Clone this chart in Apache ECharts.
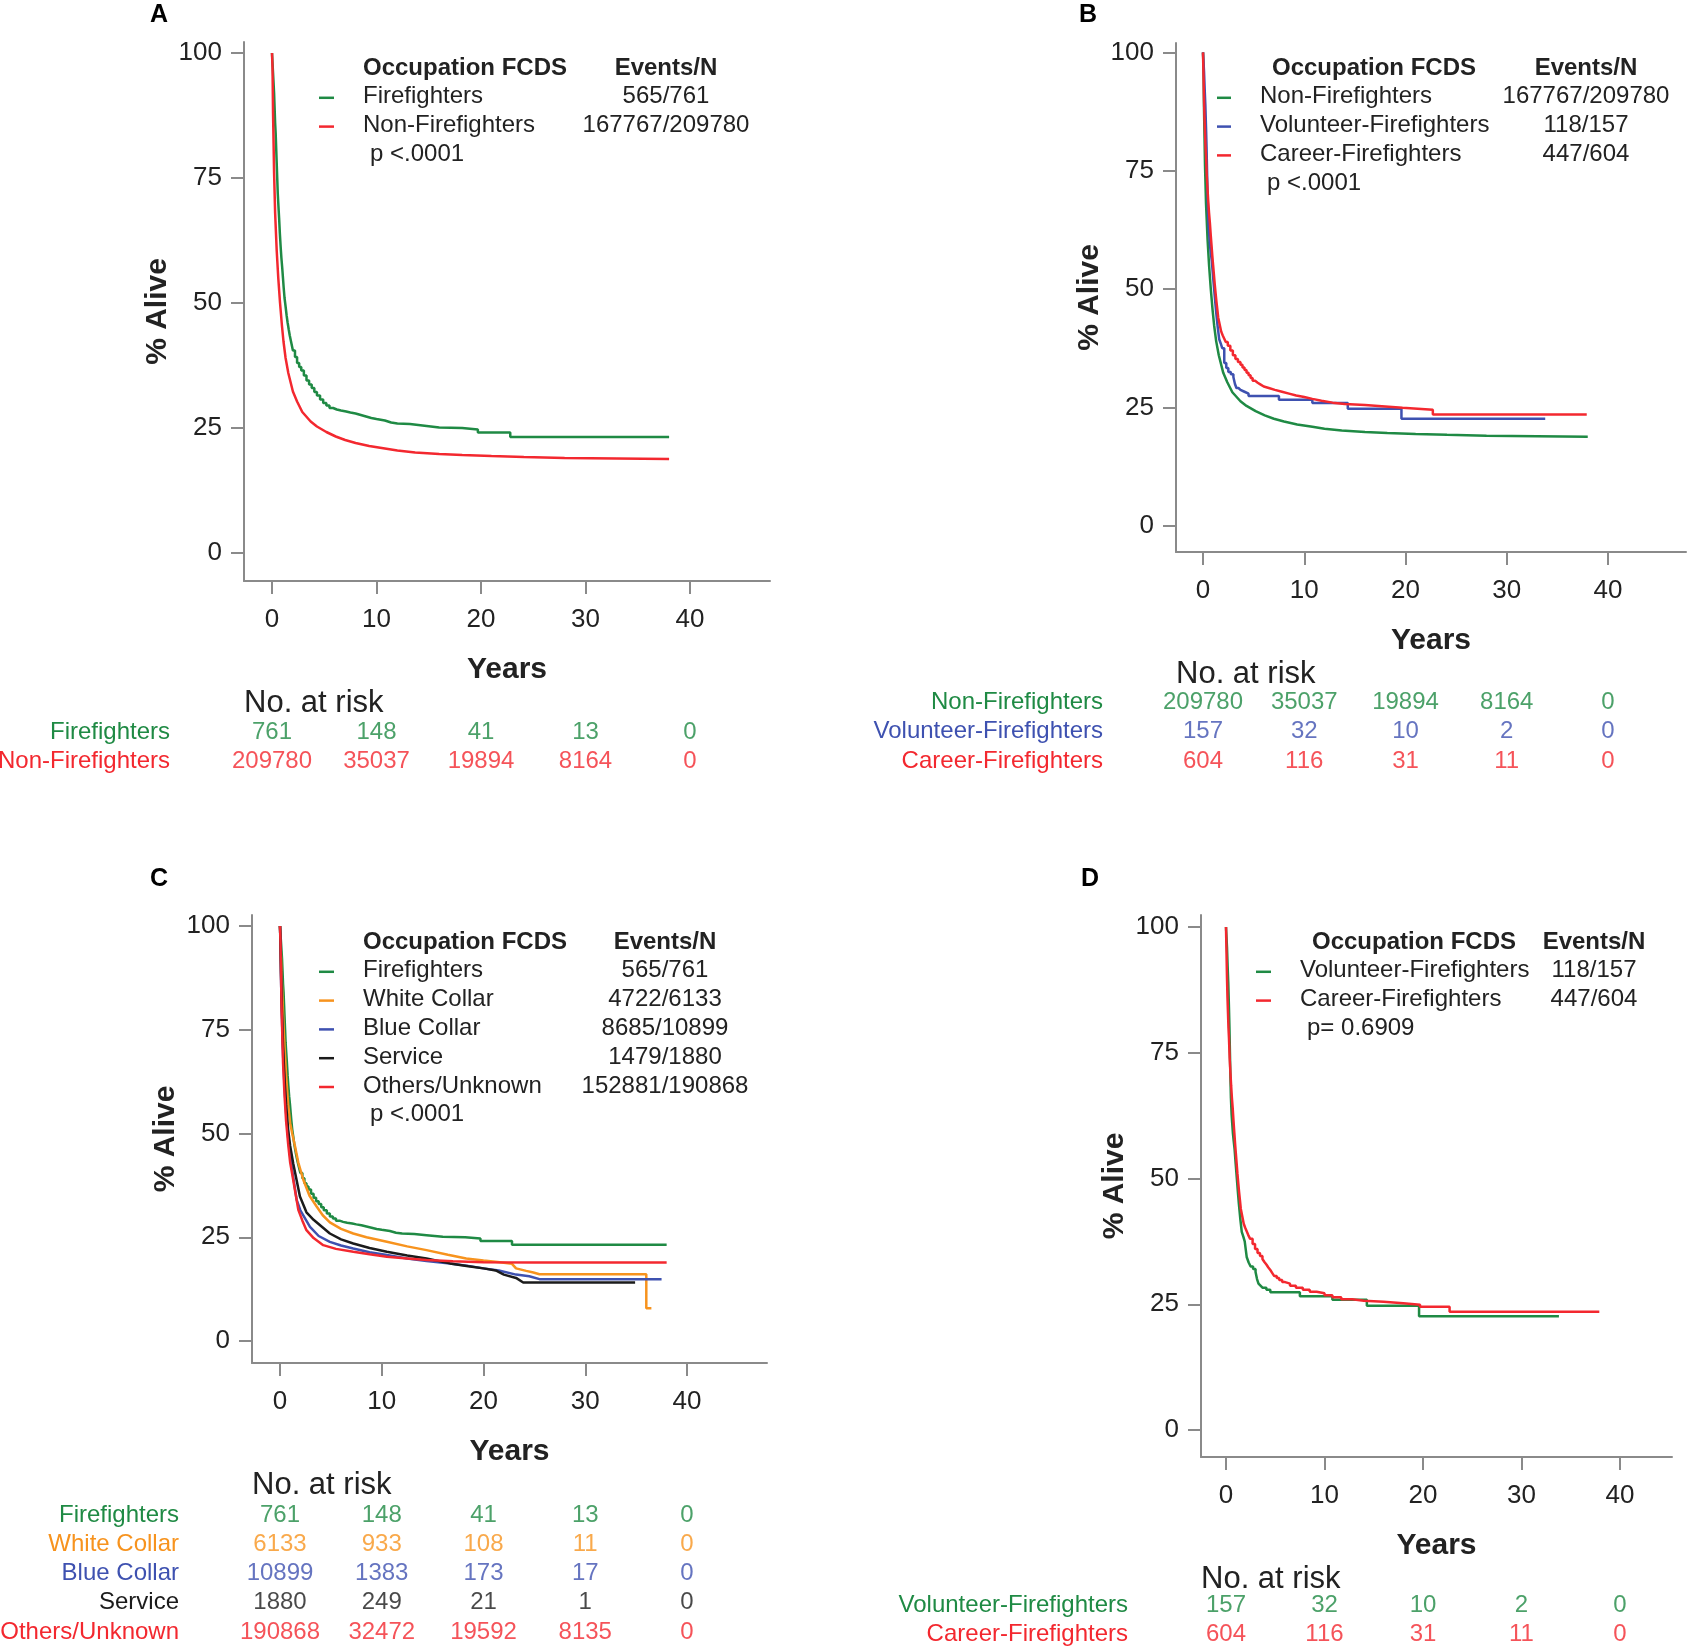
<!DOCTYPE html>
<html>
<head>
<meta charset="utf-8">
<title>Kaplan-Meier: Occupation FCDS</title>
<script src="https://cdn.jsdelivr.net/npm/echarts@6/dist/echarts.min.js"></script>
<style>
  html, body { margin: 0; padding: 0; background: #fff; }
  #main { width: 1689px; height: 1647px; }
</style>
</head>
<body>
<div id="main"></div>
<script>
// ---- data ----
var yearTicks = [0, 10, 20, 30, 40];
var percentTicks = [0, 25, 50, 75, 100];

// [years, % alive]
var kmFirefighters = [[0,100],[0.05,98],[0.1,96],[0.15,94],[0.2,92],[0.25,89],[0.3,86],[0.35,84],[0.4,81],[0.45,78],[0.5,75],[0.55,72],[0.6,70],[0.68,67],[0.75,64],[0.82,61.5],[0.9,59],[0.98,57],[1.05,55],[1.12,53],[1.2,51],[1.3,49.3],[1.4,47.5],[1.5,46],[1.6,44.7],[1.7,43.5],[1.85,42],[2.0,40.5],[2.2,39.2],[2.4,38],[2.6,37.2],[2.8,36.5],[3.05,35.5],[3.3,34.5],[3.55,33.7],[3.8,33],[4.05,32.2],[4.3,31.5],[4.6,30.7],[4.9,30],[5.2,29.5],[5.5,29],[5.85,28.7],[6.2,28.5],[6.6,28.3],[7.1,28.1],[7.5,27.9],[8.0,27.6],[8.5,27.3],[9.0,27],[9.5,26.8],[10.0,26.5],[10.8,26.1],[11.4,25.9],[12.0,25.8],[13.2,25.5],[14.4,25.1],[16,25.0],[18.2,24.7],[19.7,24.1],[22.8,23.2],[38,23.2]];
var kmNonFirefighters = [[0,100],[0.05,97],[0.1,88],[0.15,82],[0.2,76],[0.3,68],[0.45,60.5],[0.6,55],[0.77,50],[0.95,45.5],[1.1,42.3],[1.3,39],[1.56,36],[2.0,32.3],[2.4,30.3],[2.9,28.2],[3.7,26.3],[4.3,25.3],[5.2,24.2],[6.1,23.3],[7.0,22.6],[8.0,22.0],[9.3,21.4],[10.8,20.9],[12.0,20.5],[13.7,20.1],[16.0,19.8],[18.2,19.6],[21.0,19.4],[24.1,19.2],[28.0,19.0],[33.0,18.9],[38.0,18.8]];
var kmVolunteer = [[0,100],[0.05,98],[0.1,96],[0.17,92],[0.23,89],[0.3,84],[0.35,80],[0.4,75],[0.45,70],[0.5,66],[0.57,62.7],[0.63,61],[0.7,59],[0.78,57.5],[0.87,55.9],[0.98,53],[1.1,50],[1.2,47.5],[1.3,45.1],[1.45,42],[1.6,39.4],[1.75,38.5],[1.9,37.5],[2.1,34.4],[2.3,33.3],[2.5,32.5],[2.75,32],[3.0,31.4],[3.15,30],[3.3,29.1],[3.5,28.7],[3.7,28.3],[4.1,27.9],[4.5,27.4],[7.5,26.6],[10.8,25.9],[14.3,24.7],[19.6,22.6],[33.8,22.6]];
var kmCareer = [[0,100],[0.03,97],[0.06,94],[0.1,90],[0.15,86],[0.2,83],[0.25,80],[0.3,78],[0.37,74],[0.45,71],[0.52,68.5],[0.6,66],[0.68,64],[0.76,61.5],[0.85,59],[0.92,57],[1.0,55],[1.08,53],[1.16,51],[1.25,49],[1.33,47.3],[1.42,45.6],[1.5,44],[1.6,43],[1.7,42],[1.8,41],[1.95,40.2],[2.1,39.5],[2.25,38.8],[2.45,38],[2.7,37],[2.95,36],[3.2,35.2],[3.45,34.6],[3.7,34],[3.9,33.4],[4.1,32.9],[4.3,32.3],[4.5,31.8],[4.7,31.2],[4.9,30.6],[5.15,30.2],[5.4,29.8],[5.7,29.4],[6.0,29.1],[6.5,28.7],[7.1,28.3],[7.8,27.9],[8.5,27.5],[9.2,27.2],[10,26.8],[10.8,26.4],[11.7,26.0],[12.8,25.7],[14,25.5],[16,25.2],[18,24.9],[19.7,24.5],[22.7,23.5],[37.9,23.5]];
var kmWhiteCollar = [[0,100],[0.1,92],[0.25,82],[0.4,73],[0.6,64],[0.8,57],[1.0,52.5],[1.2,50],[1.47,47],[1.8,43],[2.3,38.8],[2.9,35],[3.6,32.4],[4.2,30.3],[4.9,28.6],[6.0,27],[7.2,25.9],[8.5,25],[10.5,23.9],[12.5,22.8],[14.4,21.9],[16.5,20.8],[18.3,19.9],[20.0,19.4],[21.6,19.0],[22.8,18.6],[23.2,17.5],[24.2,16.9],[24.9,16.5],[25.5,16.1],[36.0,16.1],[36.0,7.9],[36.5,7.9]];
var kmBlueCollar = [[0,100],[0.05,95],[0.1,87],[0.2,77],[0.3,69],[0.45,61],[0.6,55],[0.8,49],[1.0,44.5],[1.3,39.5],[1.64,34],[2.0,31.5],[2.95,27.5],[3.8,25.3],[4.9,23.9],[6.0,23.0],[7.2,22.3],[8.8,21.4],[10.5,20.7],[12.5,19.9],[14.4,19.3],[16.7,18.7],[18.5,18.1],[20,17.5],[21.5,17.0],[23.2,16.0],[24.5,15.6],[25.5,14.9],[37.5,14.9]];
var kmService = [[0,100],[0.05,96],[0.1,89],[0.2,79],[0.3,71],[0.45,63],[0.6,57],[0.8,51],[1.0,47],[1.3,42.8],[1.96,34.8],[2.6,31],[3.3,29.2],[4.9,25.9],[6.0,24.5],[7.2,23.5],[8.8,22.4],[10.5,21.5],[12.5,20.6],[14.4,19.9],[16.7,18.7],[18.5,18.0],[20,17.5],[21.2,17.0],[22,16.0],[23.2,15.2],[23.9,14.1],[34.9,14.1]];
var kmOthers = [[0,100],[0.05,96],[0.1,88],[0.15,81],[0.2,76],[0.3,67],[0.45,59],[0.6,53],[0.8,47.5],[1.0,43],[1.3,38.8],[1.8,31.6],[2.2,29],[2.6,26.7],[3.3,24.8],[4.25,23.1],[5.5,22.2],[7.2,21.5],[8.8,20.9],[10.5,20.3],[12.5,19.9],[14.4,19.5],[17,19.2],[20,19.0],[25,18.9],[38,18.9]];

// number at risk at yearTicks
var riskFirefighters = [761, 148, 41, 13, 0];
var riskNonFirefighters = [209780, 35037, 19894, 8164, 0];
var riskVolunteer = [157, 32, 10, 2, 0];
var riskCareer = [604, 116, 31, 11, 0];
var riskWhiteCollar = [6133, 933, 108, 11, 0];
var riskBlueCollar = [10899, 1383, 173, 17, 0];
var riskService = [1880, 249, 21, 1, 0];
var riskOthers = [190868, 32472, 19592, 8135, 0];

var eventsA = ["565/761", "167767/209780"];
var eventsB = ["167767/209780", "118/157", "447/604"];
var eventsC = ["565/761", "4722/6133", "8685/10899", "1479/1880", "152881/190868"];
var eventsD = ["118/157", "447/604"];
var pValues = ["p <.0001", "p <.0001", "p <.0001", "p= 0.6909"];

// ---- styling ----
var GREEN = "#1f8a44", RED = "#f3282f", BLUE = "#3e51b0", ORANGE = "#f7931e", BLACK = "#1b1b1b";
var AXIS = "#8a8a8a", TXT = "#222";
var FONT = "'Liberation Sans', Arial, sans-serif";

function g(name, color, curve, risk, smooth) {
  return { name: name, color: color, curve: curve, risk: risk, step: !smooth };
}

var panels = [
  { label: "A", labelPos: [159, 15], grid: { left: 244, top: 42, width: 526, height: 539 },
    x0: 272, x40: 690, y0: 553, y100: 53,
    groups: [g("Firefighters", GREEN, kmFirefighters, riskFirefighters),
             g("Non-Firefighters", RED, kmNonFirefighters, riskNonFirefighters, true)],
    events: eventsA, p: pValues[0],
    leg: { m1: 319, m2: 334, nameX: 363, headX: 363, valX: 666, headY: 68, pX: 370 },
    riskY: 732, riskStep: 29, riskMargin: 74 },
  { label: "B", labelPos: [1088, 15], grid: { left: 1176, top: 43, width: 510, height: 509 },
    x0: 1203, x40: 1608, y0: 525.7, y100: 52.4,
    groups: [g("Non-Firefighters", GREEN, kmNonFirefighters, riskNonFirefighters, true),
             g("Volunteer-Firefighters", BLUE, kmVolunteer, riskVolunteer),
             g("Career-Firefighters", RED, kmCareer, riskCareer)],
    events: eventsB, p: pValues[1],
    leg: { m1: 1217, m2: 1231, nameX: 1260, headX: 1272, valX: 1586, headY: 68, pX: 1267 },
    riskY: 702, riskStep: 29.5, riskMargin: 73 },
  { label: "C", labelPos: [159, 879], grid: { left: 252, top: 915, width: 515, height: 448 },
    x0: 280, x40: 687, y0: 1341, y100: 926,
    groups: [g("Firefighters", GREEN, kmFirefighters, riskFirefighters),
             g("White Collar", ORANGE, kmWhiteCollar, riskWhiteCollar, true),
             g("Blue Collar", BLUE, kmBlueCollar, riskBlueCollar, true),
             g("Service", BLACK, kmService, riskService, true),
             g("Others/Unknown", RED, kmOthers, riskOthers, true)],
    events: eventsC, p: pValues[2],
    leg: { m1: 319, m2: 334, nameX: 363, headX: 363, valX: 665, headY: 942, pX: 370 },
    riskY: 1515, riskStep: 29.25, riskMargin: 73 },
  { label: "D", labelPos: [1090, 879], grid: { left: 1201, top: 915, width: 471, height: 542 },
    x0: 1226, x40: 1620, y0: 1430, y100: 927,
    groups: [g("Volunteer-Firefighters", GREEN, kmVolunteer, riskVolunteer),
             g("Career-Firefighters", RED, kmCareer, riskCareer)],
    events: eventsD, p: pValues[3],
    leg: { m1: 1256, m2: 1271, nameX: 1300, headX: 1312, valX: 1594, headY: 942, pX: 1307 },
    riskY: 1605, riskStep: 29, riskMargin: 73 }
];

var grids = [], xAxes = [], yAxes = [], series = [], graphics = [];

function txt(x, y, s, opt) {
  opt = opt || {};
  return {
    type: "text", x: x, y: y, rotation: opt.rotation || 0, silent: true,
    style: {
      text: s, x: 0, y: 0,
      textAlign: opt.align || "left", textVerticalAlign: "middle",
      font: (opt.bold ? "bold " : "") + (opt.size || 24) + "px " + FONT,
      fill: opt.color || TXT
    }
  };
}

panels.forEach(function (pn) {
  var gr = pn.grid;
  var pxPerYear = (pn.x40 - pn.x0) / 40;
  var pxPerPct = (pn.y0 - pn.y100) / 100;
  var xMin = (gr.left - pn.x0) / pxPerYear;
  var xMax = (gr.left + gr.width - pn.x0) / pxPerYear;
  var yMin = -(gr.top + gr.height - pn.y0) / pxPerPct;
  var yMax = 100 + (pn.y100 - gr.top) / pxPerPct;

  // plot grid
  var gi = grids.length;
  grids.push({ left: gr.left, top: gr.top, width: gr.width, height: gr.height, outerBoundsMode: "none" });
  xAxes.push({
    type: "value", gridIndex: gi, min: xMin, max: xMax,
    axisLine: { show: true, onZero: false, lineStyle: { color: AXIS, width: 2 } },
    axisTick: { show: true, length: 13, customValues: yearTicks, lineStyle: { color: AXIS, width: 2 } },
    axisLabel: { customValues: yearTicks, fontSize: 26, color: TXT, margin: 26, fontFamily: FONT },
    splitLine: { show: false }
  });
  yAxes.push({
    type: "value", gridIndex: gi, min: yMin, max: yMax,
    axisLine: { show: true, onZero: false, lineStyle: { color: AXIS, width: 2 } },
    axisTick: { show: true, length: 13, customValues: percentTicks, lineStyle: { color: AXIS, width: 2 } },
    axisLabel: { customValues: percentTicks, fontSize: 26, color: TXT, margin: 22, fontFamily: FONT },
    splitLine: { show: false }
  });
  pn.groups.forEach(function (grp) {
    series.push({
      type: "line", xAxisIndex: gi, yAxisIndex: gi, name: grp.name,
      data: grp.curve, step: grp.step ? "end" : false,
      showSymbol: false, symbol: "none", silent: true, animation: false,
      lineStyle: { color: grp.color, width: 2.5 }
    });
  });

  // number-at-risk table as its own grid sharing the year scale
  var ri = grids.length;
  var n = pn.groups.length;
  grids.push({ left: gr.left, width: gr.width, top: pn.riskY - pn.riskStep / 2, height: n * pn.riskStep, outerBoundsMode: "none" });
  xAxes.push({ type: "value", gridIndex: ri, min: xMin, max: xMax, show: false });
  yAxes.push({
    type: "category", gridIndex: ri, inverse: true,
    data: pn.groups.map(function (grp) { return grp.name; }),
    axisLine: { show: false }, axisTick: { show: false }, splitLine: { show: false },
    axisLabel: {
      interval: 0, fontSize: 24, margin: pn.riskMargin, fontFamily: FONT,
      color: function (v) {
        for (var k = 0; k < pn.groups.length; k++) {
          if (pn.groups[k].name === v) return pn.groups[k].color;
        }
        return TXT;
      }
    }
  });
  pn.groups.forEach(function (grp, i) {
    series.push({
      type: "scatter", xAxisIndex: ri, yAxisIndex: ri, silent: true, animation: false,
      symbolSize: 1, itemStyle: { color: "transparent" },
      data: yearTicks.map(function (t, j) { return [t, i, grp.risk[j]]; }),
      label: {
        show: true, position: "inside", fontSize: 24, fontFamily: FONT, color: grp.color,
        formatter: function (p) { return String(p.value[2]); }
      }
    });
  });

  // texts
  var cx = gr.left + gr.width / 2;
  var axisY = gr.top + gr.height;
  graphics.push(txt(pn.labelPos[0], pn.labelPos[1], pn.label, { bold: true, size: 25, align: "center", color: "#000" }));
  graphics.push(txt(gr.left - 86, gr.top + gr.height / 2, "% Alive", { bold: true, size: 30, align: "center", rotation: Math.PI / 2 }));
  graphics.push(txt(cx, axisY + 89, "Years", { bold: true, size: 30, align: "center" }));
  graphics.push(txt(gr.left, axisY + 122, "No. at risk", { size: 31 }));

  // legend block
  var L = pn.leg;
  graphics.push(txt(L.headX, L.headY, "Occupation FCDS", { bold: true, size: 24 }));
  graphics.push(txt(L.valX, L.headY, "Events/N", { bold: true, size: 24, align: "center" }));
  pn.groups.forEach(function (grp, i) {
    var y = L.headY + 28.8 * (i + 1);
    graphics.push({ type: "line", silent: true, shape: { x1: L.m1, y1: y + 1, x2: L.m2, y2: y + 1 },
      style: { stroke: grp.color, lineWidth: 2.5 } });
    graphics.push(txt(L.nameX, y, grp.name, { size: 24 }));
    graphics.push(txt(L.valX, y, pn.events[i], { size: 24, align: "center" }));
  });
  graphics.push(txt(L.pX, L.headY + 28.8 * (n + 1), pn.p, { size: 24 }));
});

var chart = echarts.init(document.getElementById("main"), null, { renderer: "canvas" });
chart.setOption({
  backgroundColor: "#fff",
  animation: false,
  grid: grids,
  xAxis: xAxes,
  yAxis: yAxes,
  series: series,
  graphic: graphics
});
window.addEventListener("resize", function () { chart.resize(); });
</script>
</body>
</html>
